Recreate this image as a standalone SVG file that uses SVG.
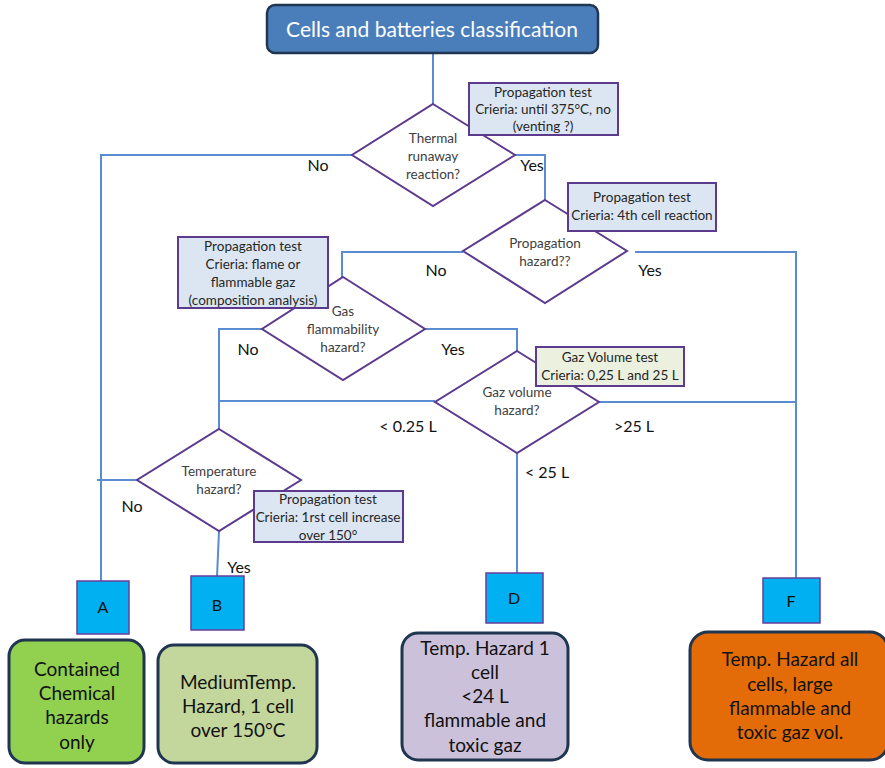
<svg xmlns="http://www.w3.org/2000/svg" width="885" height="768" viewBox="0 0 885 768">
<style>
.conn{stroke:#5b8bd0;stroke-width:2;fill:none}
.dia{fill:#fff;stroke:#5c3a8e;stroke-width:2}
.dt{font-family:Lato,"Liberation Sans",sans-serif;font-size:13.5px;fill:#404040;text-anchor:middle}
.note{stroke:#5c3a8e;stroke-width:2}
.nt{font-family:Lato,"Liberation Sans",sans-serif;font-size:13.5px;fill:#262626;text-anchor:middle}
.lbl{font-family:Lato,"Liberation Sans",sans-serif;font-size:16px;fill:#111;text-anchor:middle}
.cat{fill:#00b0f0;stroke:#6a3d9a;stroke-width:1.5}
.ct{font-family:Lato,"Liberation Sans",sans-serif;font-size:16px;fill:#111;text-anchor:middle}
.res{stroke:#1f3550;stroke-width:3}
.rt{font-family:Lato,"Liberation Sans",sans-serif;font-size:19px;fill:#111;text-anchor:middle}
</style>
<rect width="885" height="768" fill="#fff"/>
<g id="connectors">
<path class="conn" d="M433 53V104"/>
<path class="conn" d="M352 155H101V581"/>
<path class="conn" d="M515 155H545V200"/>
<path class="conn" d="M463 252H342V277"/>
<path class="conn" d="M635 252H796V592"/>
<path class="conn" d="M262 329H219V429"/>
<path class="conn" d="M425 329H517V351"/>
<path class="conn" d="M219 401H435"/>
<path class="conn" d="M599 402H796"/>
<path class="conn" d="M517 453V573"/>
<path class="conn" d="M137 480H97"/>
<path class="conn" d="M219 531L217 577"/>
</g>
<g id="title">
<rect x="267" y="5" width="331" height="48" rx="8" fill="#4a7ebb" stroke="#1f3550" stroke-width="2.5"/>
<text x="432" y="37" font-family="Lato,'Liberation Sans',sans-serif" font-size="21px" fill="#fff" text-anchor="middle">Cells and batteries classification</text>
</g>
<g id="thermal">
<polygon class="dia" points="433,104 515,155 433,206 352,155"/>
<text class="dt" x="433" y="143">Thermal</text>
<text class="dt" x="433" y="161">runaway</text>
<text class="dt" x="433" y="179">reaction?</text>
</g>
<g id="note1">
<rect class="note" x="469" y="83" width="149" height="52" fill="#dce6f2"/>
<text class="nt" x="543" y="97">Propagation test</text>
<text class="nt" x="543" y="114">Crieria: until 375°C, no</text>
<text class="nt" x="543" y="131">(venting ?)</text>
</g>
<g id="propagation">
<polygon class="dia" points="545,200 627,251 545,303 463,251"/>
<text class="dt" x="545" y="248">Propagation</text>
<text class="dt" x="545" y="266">hazard??</text>
</g>
<g id="note2">
<rect class="note" x="568" y="183" width="148" height="48" fill="#dce6f2"/>
<text class="nt" x="642" y="202">Propagation test</text>
<text class="nt" x="642" y="220">Crieria: 4th cell reaction</text>
</g>
<g id="gasflam">
<polygon class="dia" points="343,277 425,329 343,380 262,329"/>
<text class="dt" x="343" y="316">Gas</text>
<text class="dt" x="343" y="334">flammability</text>
<text class="dt" x="343" y="352">hazard?</text>
</g>
<g id="note3">
<rect class="note" x="178" y="237" width="150" height="71" fill="#dce6f2"/>
<text class="nt" x="253" y="251">Propagation test</text>
<text class="nt" x="253" y="269">Crieria: flame or</text>
<text class="nt" x="253" y="287">flammable gaz</text>
<text class="nt" x="253" y="305">(composition analysis)</text>
</g>
<g id="gazvol">
<polygon class="dia" points="517,351 599,402 517,453 435,402"/>
<text class="dt" x="517" y="397">Gaz volume</text>
<text class="dt" x="517" y="415">hazard?</text>
</g>
<g id="note5">
<rect class="note" x="536" y="347" width="148" height="39" fill="#ebf1de"/>
<text class="nt" x="610" y="362">Gaz Volume test</text>
<text class="nt" x="610" y="380">Crieria: 0,25 L and 25 L</text>
</g>
<g id="temp">
<polygon class="dia" points="219,429 301,480 219,531 137,480"/>
<text class="dt" x="219" y="476">Temperature</text>
<text class="dt" x="219" y="494">hazard?</text>
</g>
<g id="note4">
<rect class="note" x="254" y="491" width="149" height="51" fill="#dce6f2"/>
<text class="nt" x="328" y="504">Propagation test</text>
<text class="nt" x="328" y="522">Crieria: 1rst cell increase</text>
<text class="nt" x="328" y="540">over 150°</text>
</g>
<g id="labels">
<text class="lbl" x="318" y="171">No</text>
<text class="lbl" x="532" y="171">Yes</text>
<text class="lbl" x="436" y="276">No</text>
<text class="lbl" x="650" y="276">Yes</text>
<text class="lbl" x="248" y="355">No</text>
<text class="lbl" x="453" y="355">Yes</text>
<text class="lbl" x="408" y="432">&lt; 0.25 L</text>
<text class="lbl" x="634" y="432">&gt;25 L</text>
<text class="lbl" x="547" y="478">&lt; 25 L</text>
<text class="lbl" x="132" y="512">No</text>
<text class="lbl" x="239" y="573">Yes</text>
</g>
<g id="catA">
<rect class="cat" x="77" y="581" width="52" height="53"/>
<text class="ct" x="103" y="613">A</text>
</g>
<g id="catB">
<rect class="cat" x="191" y="576" width="53" height="54"/>
<text class="ct" x="217" y="611">B</text>
</g>
<g id="catD">
<rect class="cat" x="486" y="573" width="57" height="50"/>
<text class="ct" x="514" y="604">D</text>
</g>
<g id="catF">
<rect class="cat" x="763" y="578" width="57" height="45"/>
<text class="ct" x="791" y="607">F</text>
</g>
<g id="resA">
<rect class="res" x="9" y="640" width="135" height="123" rx="16" fill="#92d050"/>
<text class="rt" x="77" y="676">Contained</text>
<text class="rt" x="77" y="700">Chemical</text>
<text class="rt" x="77" y="724">hazards</text>
<text class="rt" x="77" y="749">only</text>
</g>
<g id="resB">
<rect class="res" x="158" y="645" width="159" height="118" rx="16" fill="#c3d69b"/>
<text class="rt" x="238" y="689">MediumTemp.</text>
<text class="rt" x="238" y="713">Hazard, 1 cell</text>
<text class="rt" x="238" y="737">over 150°C</text>
</g>
<g id="resD">
<rect class="res" x="402" y="633" width="166" height="127" rx="16" fill="#ccc1da"/>
<text class="rt" x="485" y="655">Temp. Hazard 1</text>
<text class="rt" x="485" y="679">cell</text>
<text class="rt" x="485" y="703">&lt;24 L</text>
<text class="rt" x="485" y="727">flammable and</text>
<text class="rt" x="485" y="752">toxic gaz</text>
</g>
<g id="resF">
<rect class="res" x="690" y="632" width="198" height="128" rx="18" fill="#e36c09"/>
<text class="rt" x="790" y="666">Temp. Hazard all</text>
<text class="rt" x="790" y="691">cells, large</text>
<text class="rt" x="790" y="715">flammable and</text>
<text class="rt" x="790" y="739">toxic gaz vol.</text>
</g>
</svg>
